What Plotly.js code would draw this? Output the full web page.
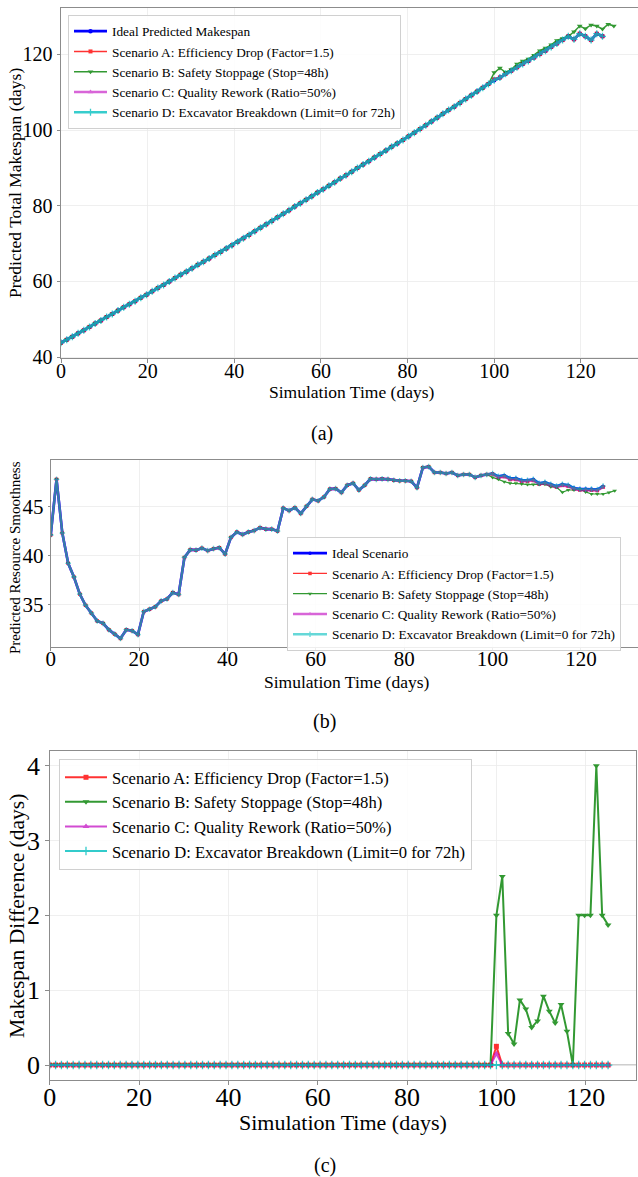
<!DOCTYPE html>
<html><head><meta charset="utf-8">
<script src="https://cdn.plot.ly/plotly-3.0.1.min.js"></script>
<style>html,body{margin:0;padding:0;background:#fff}#chart{width:638px;height:1177px}</style>
</head><body><div id="chart"></div>
<script>
// ---------- DATA ----------
const timeDays = [0.00,1.32,2.63,3.95,5.26,6.58,7.89,9.21,10.53,11.84,13.16,14.47,15.79,17.11,18.42,19.74,21.05,22.37,23.68,25.00,26.32,27.63,28.95,30.26,31.58,32.89,34.21,35.53,36.84,38.16,39.47,40.79,42.11,43.42,44.74,46.05,47.37,48.68,50.00,51.32,52.63,53.95,55.26,56.58,57.89,59.21,60.53,61.84,63.16,64.47,65.79,67.11,68.42,69.74,71.05,72.37,73.68,75.00,76.32,77.63,78.95,80.26,81.58,82.89,84.21,85.53,86.84,88.16,89.47,90.79,92.11,93.42,94.74,96.05,97.37,98.68,100.00,101.32,102.63,103.95,105.26,106.58,107.89,109.21,110.53,111.84,113.16,114.47,115.79,117.11,118.42,119.74,121.05,122.37,123.68,125.00];
const timeDaysB = [0.00,1.32,2.63,3.95,5.26,6.58,7.89,9.21,10.53,11.84,13.16,14.47,15.79,17.11,18.42,19.74,21.05,22.37,23.68,25.00,26.32,27.63,28.95,30.26,31.58,32.89,34.21,35.53,36.84,38.16,39.47,40.79,42.11,43.42,44.74,46.05,47.37,48.68,50.00,51.32,52.63,53.95,55.26,56.58,57.89,59.21,60.53,61.84,63.16,64.47,65.79,67.11,68.42,69.74,71.05,72.37,73.68,75.00,76.32,77.63,78.95,80.26,81.58,82.89,84.21,85.53,86.84,88.16,89.47,90.79,92.11,93.42,94.74,96.05,97.37,98.68,100.00,101.32,102.63,103.95,105.26,106.58,107.89,109.21,110.53,111.84,113.16,114.47,115.79,117.11,118.42,119.74,121.05,122.37,123.68,125.00,126.32,127.63];

// (a) predicted total makespan (days)
const makespanIdeal = [43.8,44.6,45.4,46.3,47.1,48.0,48.9,49.7,50.6,51.4,52.3,53.2,54.0,54.8,55.7,56.5,57.4,58.3,59.1,60.0,60.9,61.8,62.6,63.5,64.4,65.2,66.1,67.0,67.8,68.7,69.6,70.5,71.4,72.3,73.3,74.2,75.1,76.0,77.0,77.9,78.8,79.8,80.7,81.6,82.5,83.5,84.4,85.3,86.2,87.2,88.1,89.0,90.0,90.9,91.8,92.8,93.7,94.6,95.6,96.5,97.4,98.4,99.3,100.3,101.3,102.3,103.3,104.3,105.3,106.2,107.2,108.2,109.2,110.2,111.2,112.2,113.2,113.9,114.9,115.7,116.6,117.5,118.3,119.2,120.1,121.0,122.0,122.9,123.8,124.8,124.0,125.5,124.8,123.8,125.5,124.8];
const makespanA = [43.8,44.6,45.4,46.3,47.1,48.0,48.9,49.7,50.6,51.4,52.3,53.2,54.0,54.8,55.7,56.5,57.4,58.3,59.1,60.0,60.9,61.8,62.6,63.5,64.4,65.2,66.1,67.0,67.8,68.7,69.6,70.5,71.4,72.3,73.3,74.2,75.1,76.0,77.0,77.9,78.8,79.8,80.7,81.6,82.5,83.5,84.4,85.3,86.2,87.2,88.1,89.0,90.0,90.9,91.8,92.8,93.7,94.6,95.6,96.5,97.4,98.4,99.3,100.3,101.3,102.3,103.3,104.3,105.3,106.2,107.2,108.2,109.2,110.2,111.2,112.2,113.45,113.9,114.9,115.7,116.6,117.5,118.3,119.2,120.1,121.0,122.0,122.9,123.8,124.8,124.0,125.5,124.8,123.8,125.5,124.8];
const makespanB = [43.8,44.6,45.4,46.3,47.1,48.0,48.9,49.7,50.6,51.4,52.3,53.2,54.0,54.8,55.7,56.5,57.4,58.3,59.1,60.0,60.9,61.8,62.6,63.5,64.4,65.2,66.1,67.0,67.8,68.7,69.6,70.5,71.4,72.3,73.3,74.2,75.1,76.0,77.0,77.9,78.8,79.8,80.7,81.6,82.5,83.5,84.4,85.3,86.2,87.2,88.1,89.0,90.0,90.9,91.8,92.8,93.7,94.6,95.6,96.5,97.4,98.4,99.3,100.3,101.3,102.3,103.3,104.3,105.3,106.2,107.2,108.2,109.2,110.2,111.2,112.2,115.2,116.4,115.3,116.0,117.45,118.25,118.8,119.8,121.0,121.7,122.55,123.7,124.25,124.8,126.0,127.5,126.8,127.8,127.5,126.7,128.0,127.5];
const makespanC = [43.8,44.6,45.4,46.3,47.1,48.0,48.9,49.7,50.6,51.4,52.3,53.2,54.0,54.8,55.7,56.5,57.4,58.3,59.1,60.0,60.9,61.8,62.6,63.5,64.4,65.2,66.1,67.0,67.8,68.7,69.6,70.5,71.4,72.3,73.3,74.2,75.1,76.0,77.0,77.9,78.8,79.8,80.7,81.6,82.5,83.5,84.4,85.3,86.2,87.2,88.1,89.0,90.0,90.9,91.8,92.8,93.7,94.6,95.6,96.5,97.4,98.4,99.3,100.3,101.3,102.3,103.3,104.3,105.3,106.2,107.2,108.2,109.2,110.2,111.2,112.2,113.35,113.9,114.9,115.7,116.6,117.5,118.3,119.2,120.1,121.0,122.0,122.9,123.8,124.8,124.0,125.5,124.8,123.8,125.5,124.8];
const makespanD = [43.8,44.6,45.4,46.3,47.1,48.0,48.9,49.7,50.6,51.4,52.3,53.2,54.0,54.8,55.7,56.5,57.4,58.3,59.1,60.0,60.9,61.8,62.6,63.5,64.4,65.2,66.1,67.0,67.8,68.7,69.6,70.5,71.4,72.3,73.3,74.2,75.1,76.0,77.0,77.9,78.8,79.8,80.7,81.6,82.5,83.5,84.4,85.3,86.2,87.2,88.1,89.0,90.0,90.9,91.8,92.8,93.7,94.6,95.6,96.5,97.4,98.4,99.3,100.3,101.3,102.3,103.3,104.3,105.3,106.2,107.2,108.2,109.2,110.2,111.2,112.2,113.2,113.9,114.9,115.7,116.6,117.5,118.3,119.2,120.1,121.0,122.0,122.9,123.8,124.8,124.0,125.5,124.8,123.8,125.5,124.8];

// (b) predicted resource smoothness
const smoothIdeal = [42.1,47.8,42.3,39.2,37.8,36.05,34.9,34.1,33.3,33.05,32.4,31.95,31.5,32.4,32.3,31.9,34.25,34.5,34.75,35.35,35.55,36.2,36.0,39.8,40.6,40.55,40.75,40.5,40.7,40.8,40.15,41.85,42.4,42.15,42.4,42.55,42.85,42.7,42.7,42.5,44.85,44.6,44.9,44.3,45.05,45.75,45.6,46.0,46.8,46.85,46.45,47.2,47.4,46.7,47.2,47.85,47.8,47.85,47.8,47.7,47.65,47.65,47.6,46.95,49.0,49.1,48.5,48.5,48.4,48.5,48.2,48.3,48.3,48.0,48.2,48.3,48.4,48.1,48.2,47.9,47.9,47.7,47.7,47.8,47.4,47.5,47.3,47.1,47.3,47.2,46.9,46.8,46.8,46.8,46.75,47.1];
const smoothA = [42.1,47.8,42.3,39.2,37.8,36.05,34.9,34.1,33.3,33.05,32.4,31.95,31.5,32.4,32.3,31.9,34.25,34.5,34.75,35.35,35.55,36.2,36.0,39.8,40.6,40.55,40.75,40.5,40.7,40.8,40.15,41.85,42.4,42.15,42.4,42.55,42.85,42.7,42.7,42.5,44.85,44.6,44.9,44.3,45.05,45.75,45.6,46.0,46.8,46.85,46.45,47.2,47.4,46.7,47.2,47.85,47.8,47.85,47.8,47.7,47.65,47.65,47.6,46.95,49.0,49.1,48.5,48.5,48.4,48.5,48.2,48.3,48.3,48.0,48.2,48.3,48.35,47.98,48.08,47.78,47.78,47.58,47.6,47.68,47.3,47.38,47.18,47.0,47.18,47.08,46.8,46.7,46.68,46.68,46.65,47.0];
const smoothB = [42.1,47.8,42.3,39.2,37.8,36.05,34.9,34.1,33.3,33.05,32.4,31.95,31.5,32.4,32.3,31.9,34.25,34.5,34.75,35.35,35.55,36.2,36.0,39.8,40.6,40.55,40.75,40.5,40.7,40.8,40.15,41.85,42.4,42.15,42.4,42.55,42.85,42.7,42.7,42.5,44.85,44.6,44.9,44.3,45.05,45.75,45.6,46.0,46.8,46.85,46.45,47.2,47.4,46.7,47.2,47.85,47.8,47.85,47.8,47.7,47.65,47.65,47.6,46.95,49.0,49.1,48.5,48.5,48.4,48.5,48.2,48.3,48.3,48.0,48.2,48.3,48.0,47.8,47.55,47.4,47.4,47.33,47.26,47.26,47.26,47.3,47.05,46.98,46.47,46.71,46.71,46.78,46.51,46.3,46.3,46.3,46.44,46.64];
const smoothC = [42.1,47.8,42.3,39.2,37.8,36.05,34.9,34.1,33.3,33.05,32.4,31.95,31.5,32.4,32.3,31.9,34.25,34.5,34.75,35.35,35.55,36.2,36.0,39.8,40.6,40.55,40.75,40.5,40.7,40.8,40.15,41.85,42.4,42.15,42.4,42.55,42.85,42.7,42.7,42.5,44.85,44.6,44.9,44.3,45.05,45.75,45.6,46.0,46.8,46.85,46.45,47.2,47.4,46.7,47.2,47.85,47.8,47.85,47.8,47.7,47.65,47.65,47.6,46.95,49.0,49.1,48.5,48.5,48.4,48.5,48.2,48.3,48.3,48.0,48.2,48.3,48.35,47.98,48.08,47.78,47.78,47.58,47.6,47.68,47.3,47.38,47.18,47.0,47.18,47.08,46.8,46.7,46.68,46.68,46.65,47.0];
const smoothD = [42.1,47.8,42.3,39.2,37.8,36.05,34.9,34.1,33.3,33.05,32.4,31.95,31.5,32.4,32.3,31.9,34.25,34.5,34.75,35.35,35.55,36.2,36.0,39.8,40.6,40.55,40.75,40.5,40.7,40.8,40.15,41.85,42.4,42.15,42.4,42.55,42.85,42.7,42.7,42.5,44.85,44.6,44.9,44.3,45.05,45.75,45.6,46.0,46.8,46.85,46.45,47.2,47.4,46.7,47.2,47.85,47.8,47.85,47.8,47.7,47.65,47.65,47.6,46.95,49.0,49.1,48.5,48.5,48.4,48.5,48.2,48.3,48.3,48.0,48.2,48.3,48.4,48.1,48.2,47.9,47.9,47.7,47.7,47.8,47.4,47.5,47.3,47.1,47.3,47.2,46.9,46.8,46.8,46.8,46.75,47.1];

// (c) makespan difference (days)
const diffA = [0,0,0,0,0,0,0,0,0,0,0,0,0,0,0,0,0,0,0,0,0,0,0,0,0,0,0,0,0,0,0,0,0,0,0,0,0,0,0,0,0,0,0,0,0,0,0,0,0,0,0,0,0,0,0,0,0,0,0,0,0,0,0,0,0,0,0,0,0,0,0,0,0,0,0,0,0.25,0,0,0,0,0,0,0,0,0,0,0,0,0,0,0,0,0,0,0];
const diffB = [0,0,0,0,0,0,0,0,0,0,0,0,0,0,0,0,0,0,0,0,0,0,0,0,0,0,0,0,0,0,0,0,0,0,0,0,0,0,0,0,0,0,0,0,0,0,0,0,0,0,0,0,0,0,0,0,0,0,0,0,0,0,0,0,0,0,0,0,0,0,0,0,0,0,0,0,2.0,2.52,0.42,0.28,0.87,0.75,0.5,0.59,0.92,0.72,0.56,0.81,0.45,0,2.0,2.0,2.0,4.0,2.0,1.87];
const diffC = [0,0,0,0,0,0,0,0,0,0,0,0,0,0,0,0,0,0,0,0,0,0,0,0,0,0,0,0,0,0,0,0,0,0,0,0,0,0,0,0,0,0,0,0,0,0,0,0,0,0,0,0,0,0,0,0,0,0,0,0,0,0,0,0,0,0,0,0,0,0,0,0,0,0,0,0,0.15,0,0,0,0,0,0,0,0,0,0,0,0,0,0,0,0,0,0,0];
const diffD = [0,0,0,0,0,0,0,0,0,0,0,0,0,0,0,0,0,0,0,0,0,0,0,0,0,0,0,0,0,0,0,0,0,0,0,0,0,0,0,0,0,0,0,0,0,0,0,0,0,0,0,0,0,0,0,0,0,0,0,0,0,0,0,0,0,0,0,0,0,0,0,0,0,0,0,0,0,0,0,0,0,0,0,0,0,0,0,0,0,0,0,0,0,0,0,0];

const nameIdealA = "Ideal Predicted Makespan";
const nameIdealB = "Ideal Scenario";
const nameA = "Scenario A: Efficiency Drop (Factor=1.5)";
const nameB = "Scenario B: Safety Stoppage (Stop=48h)";
const nameC = "Scenario C: Quality Rework (Ratio=50%)";
const nameD = "Scenario D: Excavator Breakdown (Limit=0 for 72h)";
const xTickVals = [0,20,40,60,80,100,120];

// ---------- STYLE ----------
const FONT = "Liberation Serif";
const W = 638, H = 1177;
const px = v => v / W, py = v => 1 - v / H;

function tr(x, y, name, color, lw, sym, msize, op, xa, ya, leg) {
  return {
    type: 'scatter', mode: 'lines+markers', x: x, y: y, name: name,
    xaxis: xa, yaxis: ya, legend: leg, opacity: op,
    line: {color: color, width: lw},
    marker: {symbol: sym, size: msize, color: color, line: {color: color, width: sym.indexOf('cross') >= 0 ? 1.3 : 0}},
    hoverinfo: 'skip'
  };
}

const traces = [
  tr(timeDays, makespanIdeal, nameIdealA, '#0000ff', 2.6, 'circle', 4.5, 1, 'x', 'y', 'legend'),
  tr(timeDays, makespanA, nameA, '#ff0000', 1.5, 'square', 4, 0.8, 'x', 'y', 'legend'),
  tr(timeDaysB, makespanB, nameB, '#008000', 1.5, 'triangle-down', 5, 0.8, 'x', 'y', 'legend'),
  tr(timeDays, makespanC, nameC, '#bf00bf', 2.6, 'triangle-up', 5, 0.6, 'x', 'y', 'legend'),
  tr(timeDays, makespanD, nameD, '#00bfbf', 2.6, 'cross-thin', 5, 0.78, 'x', 'y', 'legend'),

  tr(timeDays, smoothIdeal, nameIdealB, '#0000ff', 2.6, 'circle', 3.5, 1, 'x2', 'y2', 'legend2'),
  tr(timeDays, smoothA, nameA, '#ff0000', 1.2, 'square', 3.5, 0.8, 'x2', 'y2', 'legend2'),
  tr(timeDaysB, smoothB, nameB, '#008000', 1.2, 'triangle-down', 4, 0.8, 'x2', 'y2', 'legend2'),
  tr(timeDays, smoothC, nameC, '#bf00bf', 2.6, 'triangle-up', 4, 0.6, 'x2', 'y2', 'legend2'),
  tr(timeDays, smoothD, nameD, '#00bfbf', 2.4, 'cross-thin', 4, 0.6, 'x2', 'y2', 'legend2'),

  tr(timeDays, diffA, nameA, '#ff0000', 2.0, 'square', 5, 0.8, 'x3', 'y3', 'legend3'),
  tr(timeDays, diffB, nameB, '#008000', 2.0, 'triangle-down', 6, 0.8, 'x3', 'y3', 'legend3'),
  tr(timeDays, diffC, nameC, '#bf00bf', 2.0, 'triangle-up', 6, 0.7, 'x3', 'y3', 'legend3'),
  tr(timeDays, diffD, nameD, '#00bfbf', 2.0, 'cross-thin', 6, 0.8, 'x3', 'y3', 'legend3')
];

function ax(extra, fs) {
  return Object.assign({
    showline: true, linecolor: '#8c8c8c', linewidth: 1,
    ticks: 'outside', ticklen: 3.5, tickcolor: '#8c8c8c', tickwidth: 1,
    showgrid: true, gridcolor: '#ebebeb', gridwidth: 0.8, zeroline: false,
    tickfont: {family: FONT, size: fs, color: '#000'}, fixedrange: true
  }, extra);
}

function lg(x, y, fs, iw) {
  return {x: x, y: y, xanchor: 'left', yanchor: 'top', bgcolor: 'rgba(255,255,255,0.85)',
    bordercolor: '#d0d0d0', borderwidth: 1, font: {family: FONT, size: fs, color: '#000'},
    itemwidth: iw, tracegroupgap: 0, traceorder: 'normal'};
}

function ann(text, x, y, fs, angle) {
  return {text: text, x: x, y: y, xref: 'paper', yref: 'paper', showarrow: false,
    xanchor: 'center', yanchor: 'middle', textangle: angle || 0,
    font: {family: FONT, size: fs, color: '#000'}};
}

const layout = {
  width: W, height: H, margin: {l: 0, r: 0, t: 0, b: 0},
  font: {family: FONT, color: '#000'},
  paper_bgcolor: '#fff', plot_bgcolor: '#fff', showlegend: true, hovermode: false,
  xaxis: ax({domain: [px(61), 1], range: [0, 133.2], anchor: 'y', mirror: true, tickvals: xTickVals, ticklabelstandoff: -9}, 20),
  yaxis: ax({domain: [py(358.3), py(8.3)], range: [39.7, 132.2], anchor: 'x', tickvals: [40,60,80,100,120]}, 20),
  xaxis2: ax({domain: [px(50.7), 1], range: [0, 132.9], anchor: 'y2', mirror: true, tickvals: xTickVals, ticklabelstandoff: -10}, 21),
  yaxis2: ax({domain: [py(646.7), py(460)], range: [30.66, 49.78], anchor: 'x2', tickvals: [35,40,45], ticklen: 2}, 21),
  xaxis3: ax({domain: [px(49.7), px(636)], range: [0, 131.25], anchor: 'y3', mirror: true, tickvals: xTickVals, ticklabelstandoff: -10}, 26),
  yaxis3: ax({domain: [py(1080), py(750.7)], range: [-0.2, 4.2], anchor: 'x3', mirror: true, tickvals: [0,1,2,3,4]}, 26),
  legend: lg(px(68), py(15), 13.3, 33),
  legend2: lg(px(287), py(537), 13.3, 34),
  legend3: lg(px(59), py(759), 16.6, 42),
  shapes: [{type: 'line', xref: 'x3 domain', yref: 'y3', x0: 0, x1: 1, y0: 0, y1: 0,
    line: {color: '#9a9a9a', width: 1}, layer: 'below'}],
  annotations: [
    ann('Simulation Time (days)', px(351), py(391.7), 17.5),
    ann('Predicted Total Makespan (days)', px(15), py(183), 17.5, -90),
    ann('(a)', px(322), py(433), 20),
    ann('Simulation Time (days)', px(346), py(681.5), 17.5),
    ann('Predicted Resource Smoothness', px(15), py(558), 15, -90),
    ann('(b)', px(324.5), py(722), 20),
    ann('Simulation Time (days)', px(343), py(1122.5), 22),
    ann('Makespan Difference (days)', px(17), py(916), 21.5, -90),
    ann('(c)', px(325), py(1165), 20)
  ]
};

Plotly.newPlot('chart', traces, layout, {staticPlot: true, displayModeBar: false});
</script></body></html>
